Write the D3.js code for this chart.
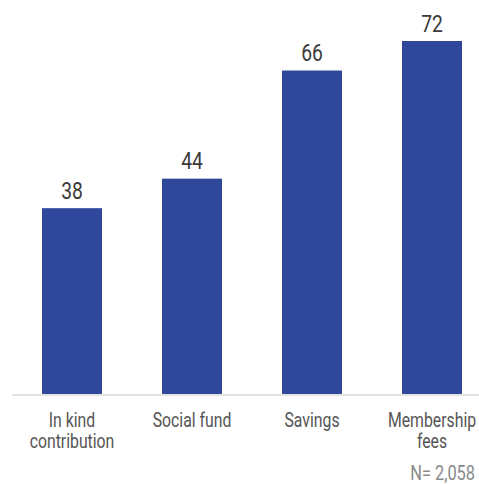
<!DOCTYPE html>
<html>
<head>
<meta charset="utf-8">
<script src="https://cdn.jsdelivr.net/npm/d3@7"></script>
<style>
  html, body { margin: 0; padding: 0; background: #fff; }
  svg { display: block; }
  text { font-family: "Roboto", "Liberation Sans", sans-serif; }
</style>
</head>
<body>
<svg id="chart" width="479" height="484"></svg>
<script>
const categories = [["In kind", "contribution"], ["Social fund"], ["Savings"], ["Membership", "fees"]];
const values = [38, 44, 66, 72];
const note = "N= 2,058";

const svg = d3.select("#chart");
const baseY = 395;
const condense = 0.79;

const x = d3.scaleBand()
  .domain(d3.range(values.length))
  .range([12, 492])
  .paddingInner(0.5)
  .paddingOuter(0.25);

const y = d3.scaleLinear().domain([0, 72]).range([baseY, 41]);

svg.selectAll("rect.bar")
  .data(values)
  .enter().append("rect")
  .attr("class", "bar")
  .attr("x", (d, i) => x(i))
  .attr("y", d => y(d))
  .attr("width", x.bandwidth())
  .attr("height", d => baseY - y(d))
  .attr("fill", "#30489b");

svg.append("line")
  .attr("x1", 12).attr("x2", 479)
  .attr("y1", baseY).attr("y2", baseY)
  .attr("stroke", "#e2e2e2").attr("stroke-width", 2);

svg.selectAll("g.val")
  .data(values)
  .enter().append("g")
  .attr("class", "val")
  .attr("transform", (d, i) => `translate(${x(i) + x.bandwidth() / 2},${y(d) - 9.5}) scale(0.84,1)`)
  .append("text")
  .attr("text-anchor", "middle")
  .attr("font-size", 23)
  .attr("fill", "#3a3a3a")
  .text(d => d);

const cat = svg.selectAll("g.cat")
  .data(categories)
  .enter().append("g")
  .attr("class", "cat")
  .attr("transform", (d, i) => `translate(${x(i) + x.bandwidth() / 2},427) scale(${condense},1)`)
  .append("text")
  .attr("text-anchor", "middle")
  .attr("font-size", 20)
  .attr("fill", "#555");
cat.selectAll("tspan")
  .data(d => d)
  .enter().append("tspan")
  .attr("x", 0)
  .attr("dy", (d, j) => j === 0 ? 0 : 21.5)
  .text(d => d);

svg.append("g")
  .attr("transform", `translate(475,480) scale(0.82,1)`)
  .append("text")
  .attr("text-anchor", "end")
  .attr("font-size", 20)
  .attr("fill", "#8a8a8a")
  .text(note);
</script>
</body>
</html>
